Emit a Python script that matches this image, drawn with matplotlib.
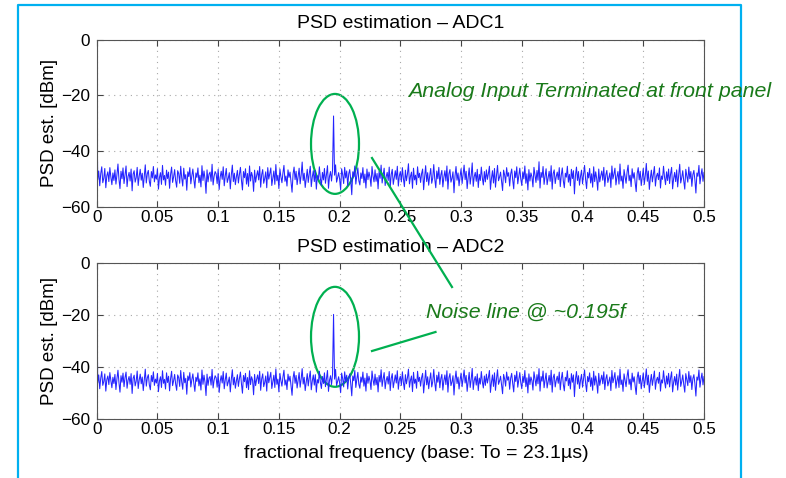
import numpy as np
import matplotlib
matplotlib.use("Agg")
import matplotlib.pyplot as plt
from matplotlib.patches import Ellipse
from matplotlib.lines import Line2D

plt.rcParams['font.family'] = ['Liberation Sans', 'DejaVu Sans']

# PSD estimates in dBm (bin 234 = noise line at ~0.195)
adc1_psd = [
    -16.3, -50.2, -47.1, -52.4, -48.0, -45.6, -51.3, -49.7, -46.2, -53.1, -48.8, -47.4, -50.9, -45.9, -49.3, -52.0, -47.8, -50.5, -46.7, -51.8,
    -48.4, -44.6, -50.1, -53.4, -47.2, -49.9, -46.0, -51.6, -48.6, -45.3, -52.7, -49.1, -47.6, -50.7, -46.4, -54.2, -48.2, -47.0, -51.1, -49.5,
    -45.8, -52.3, -48.9, -46.5, -50.4, -47.9, -53.0, -49.0, -44.9, -51.4, -48.1, -46.9, -50.8, -52.6, -47.3, -49.6, -45.5, -51.0, -48.5, -50.0,
    -46.3, -53.6, -49.4, -47.7, -51.9, -45.1, -50.3, -48.7, -52.2, -46.8, -49.8, -47.5, -53.3, -48.3, -45.7, -51.2, -49.2, -46.6, -50.6, -52.9,
    -47.0, -48.0, -51.5, -45.4, -49.6, -52.5, -46.1, -50.0, -48.4, -54.0, -47.4, -49.1, -45.9, -51.7, -48.8, -46.4, -50.2, -53.2, -47.8, -49.4,
    -46.0, -51.3, -48.6, -52.8, -45.2, -50.5, -47.1, -49.9, -55.1, -46.7, -51.0, -48.2, -47.5, -50.8, -44.7, -52.1, -49.0, -47.3, -48.1, -51.6,
    -46.5, -53.7, -49.3, -47.2, -50.1, -45.6, -52.4, -48.9, -46.2, -51.2, -49.7, -47.7, -53.5, -48.5, -45.0, -50.9, -47.9, -52.0, -49.2, -46.9,
    -51.4, -48.3, -45.8, -50.4, -53.9, -47.3, -49.5, -46.3, -51.8, -48.0, -52.6, -45.3, -50.7, -47.6, -49.0, -54.4, -46.8, -51.1, -48.7, -47.0,
    -50.3, -45.5, -52.9, -48.4, -46.6, -51.5, -49.8, -47.4, -53.1, -45.9, -50.0, -48.1, -46.0, -52.3, -49.6, -47.1, -51.9, -44.8, -50.6, -48.6,
    -53.4, -46.4, -49.2, -51.3, -47.8, -45.1, -50.8, -48.9, -52.5, -46.7, -49.4, -47.5, -51.0, -54.7, -48.2, -45.7, -50.2, -47.2, -52.0, -49.1,
    -46.1, -51.7, -48.5, -43.9, -50.5, -47.9, -53.0, -49.7, -46.5, -51.2, -48.0, -45.4, -52.7, -49.3, -47.0, -50.9, -46.9, -53.6, -48.8, -50.1,
    -45.6, -49.9, -52.2, -47.6, -50.3, -46.2, -51.5, -48.3, -45.2, -53.3, -49.0, -47.3, -50.7, -46.8, -27.4, -48.6, -44.9, -51.1, -49.5, -47.7,
    -50.0, -53.8, -46.3, -48.4, -51.6, -45.8, -49.6, -47.1, -52.4, -48.1, -46.6, -50.4, -55.6, -47.4, -49.2, -45.3, -51.8, -48.7, -46.0, -50.6,
    -52.1, -47.8, -49.8, -45.9, -51.3, -48.2, -53.2, -46.4, -50.2, -47.5, -49.3, -52.6, -45.5, -48.9, -51.0, -46.7, -50.8, -48.0, -53.5, -47.2,
    -49.7, -45.0, -51.4, -48.5, -46.1, -52.3, -49.1, -47.6, -50.5, -45.7, -53.0, -48.3, -46.5, -51.9, -49.4, -47.0, -50.1, -45.4, -52.5, -48.8,
    -47.3, -51.0, -45.9, -49.8, -52.7, -46.8, -50.6, -48.2, -44.5, -51.7, -49.0, -47.5, -53.3, -46.1, -50.3, -48.6, -52.0, -45.6, -49.5, -47.9,
    -51.2, -48.0, -46.4, -53.8, -49.2, -45.2, -50.9, -47.7, -52.2, -48.8, -46.2, -51.5, -49.6, -44.8, -50.0, -53.1, -47.1, -49.9, -45.8, -51.9,
    -48.5, -46.9, -52.8, -49.3, -47.0, -50.7, -45.3, -53.6, -48.1, -46.6, -51.1, -49.7, -47.4, -54.9, -48.9, -45.5, -50.4, -47.8, -52.4, -49.0,
    -46.3, -51.6, -48.4, -45.0, -50.2, -47.2, -53.4, -49.4, -46.0, -51.8, -48.7, -44.2, -52.6, -49.1, -47.6, -50.8, -46.5, -53.0, -48.3, -50.5,
    -45.7, -49.6, -52.1, -47.3, -51.0, -46.7, -50.1, -48.0, -45.4, -53.7, -49.8, -47.0, -51.4, -46.2, -52.9, -48.6, -45.1, -50.6, -49.3, -47.5,
    -50.9, -54.1, -46.8, -48.5, -51.3, -45.9, -49.0, -47.7, -52.5, -48.2, -46.4, -50.3, -53.5, -47.1, -49.5, -45.6, -51.7, -48.8, -46.1, -50.0,
    -52.3, -47.4, -49.9, -45.3, -51.5, -48.1, -53.9, -46.6, -50.7, -47.8, -49.2, -52.8, -45.8, -48.4, -51.2, -46.9, -50.4, -43.8, -53.2, -47.6,
    -49.4, -45.5, -51.9, -48.9, -46.3, -52.0, -49.7, -47.2, -50.8, -45.2, -53.6, -48.0, -46.7, -51.6, -49.1, -47.5, -50.2, -45.9, -52.7, -48.6,
    -46.0, -50.6, -53.1, -47.9, -49.3, -45.4, -51.1, -48.3, -52.4, -46.5, -49.8, -47.0, -55.3, -48.7, -45.7, -50.5, -47.3, -52.2, -49.0, -46.8,
    -51.7, -48.4, -45.1, -50.1, -53.4, -47.6, -49.6, -46.2, -51.4, -48.1, -52.9, -45.6, -50.9, -47.4, -49.9, -54.0, -46.4, -51.0, -48.8, -47.1,
    -50.4, -45.8, -52.6, -48.5, -46.9, -51.2, -49.5, -47.8, -53.0, -45.3, -50.0, -48.2, -46.1, -52.1, -49.2, -47.3, -51.8, -44.6, -50.7, -48.9,
    -53.3, -46.6, -49.1, -51.5, -47.5, -45.0, -50.6, -48.6, -52.7, -46.3, -49.7, -47.7, -51.3, -54.5, -48.0, -45.9, -50.3, -47.2, -52.3, -49.4,
    -46.2, -51.9, -48.7, -44.4, -50.8, -47.1, -53.7, -49.6, -46.8, -51.0, -48.3, -45.5, -52.5, -49.0, -47.9, -50.2, -46.0, -53.2, -48.9, -50.1,
    -45.4, -49.3, -52.0, -47.4, -50.5, -46.4, -51.6, -48.1, -45.8, -53.5, -49.8, -47.6, -50.9, -46.7, -52.8, -48.5, -44.7, -51.4, -49.5, -47.0,
    -50.7, -53.6, -46.5, -48.8, -51.1, -45.7, -49.9, -47.3, -52.6, -48.4, -46.9, -50.3, -55.0, -47.8, -49.0, -45.1, -51.7, -48.6, -46.3, -50.8,
    -47.6,
]

adc2_psd = [
    -4.2, -46.1, -43.0, -48.3, -44.2, -41.7, -47.0, -45.5, -42.6, -49.2, -44.8, -43.4, -46.7, -42.1, -45.2, -47.9, -43.9, -46.3, -42.8, -48.6,
    -44.5, -41.2, -46.0, -49.6, -43.3, -45.8, -42.3, -47.5, -44.0, -41.9, -48.1, -45.0, -43.6, -46.6, -42.5, -50.1, -44.3, -43.1, -47.2, -45.4,
    -41.5, -48.2, -44.9, -42.7, -46.4, -43.8, -49.0, -45.1, -40.8, -47.3, -44.1, -42.9, -46.8, -48.7, -43.2, -45.6, -41.8, -47.0, -44.6, -46.1,
    -42.4, -49.4, -45.3, -43.7, -47.8, -41.4, -46.2, -44.7, -48.4, -42.2, -45.9, -43.5, -49.1, -44.4, -41.6, -47.1, -45.2, -42.8, -46.5, -48.9,
    -43.0, -44.0, -47.4, -41.3, -45.7, -48.5, -42.0, -46.0, -44.3, -50.4, -43.4, -45.1, -42.1, -47.6, -44.8, -42.6, -46.3, -49.3, -43.9, -45.5,
    -42.2, -47.2, -44.5, -48.8, -41.1, -46.6, -43.1, -45.8, -50.9, -42.7, -47.0, -44.2, -43.6, -46.9, -40.9, -48.0, -45.0, -43.3, -44.1, -47.7,
    -42.5, -49.7, -45.4, -43.3, -46.1, -41.7, -48.3, -44.9, -42.3, -47.2, -45.7, -43.8, -49.5, -44.6, -41.0, -46.8, -43.9, -48.1, -45.3, -42.9,
    -47.4, -44.4, -41.9, -46.4, -50.0, -43.2, -45.6, -42.4, -47.9, -44.0, -48.6, -41.4, -46.7, -43.7, -45.0, -50.6, -42.8, -47.1, -44.7, -43.0,
    -46.3, -41.6, -48.9, -44.5, -42.6, -47.5, -45.9, -43.4, -49.2, -41.8, -46.0, -44.1, -42.0, -48.2, -45.6, -43.1, -47.8, -40.7, -46.6, -44.6,
    -49.5, -42.4, -45.2, -47.3, -43.8, -41.2, -46.9, -44.9, -48.6, -42.7, -45.4, -43.5, -47.0, -50.8, -44.2, -41.7, -46.2, -43.2, -48.0, -45.1,
    -42.1, -47.7, -44.5, -40.6, -46.5, -43.9, -49.0, -45.7, -42.5, -47.2, -44.0, -41.5, -48.7, -45.3, -43.0, -46.9, -42.9, -49.6, -44.8, -46.1,
    -41.6, -45.9, -48.2, -43.6, -46.3, -42.2, -47.5, -44.3, -41.3, -49.3, -45.0, -43.3, -46.7, -42.8, -19.8, -44.6, -40.9, -47.1, -45.5, -43.7,
    -46.0, -49.8, -42.3, -44.4, -47.6, -41.8, -45.6, -43.1, -48.4, -44.1, -42.6, -46.4, -51.0, -43.4, -45.2, -41.3, -47.8, -44.7, -42.0, -46.6,
    -48.1, -43.8, -45.8, -41.9, -47.3, -44.2, -49.2, -42.4, -46.2, -43.5, -45.3, -48.6, -41.5, -44.9, -47.0, -42.7, -46.8, -44.0, -49.5, -43.2,
    -45.7, -41.0, -47.4, -44.5, -42.1, -48.3, -45.1, -43.6, -46.5, -41.7, -49.0, -44.3, -42.5, -47.9, -45.4, -43.0, -46.1, -41.4, -48.5, -44.8,
    -43.5, -47.0, -41.8, -45.9, -48.6, -42.9, -46.4, -44.1, -40.8, -47.7, -45.0, -43.4, -49.4, -42.0, -46.2, -44.6, -48.1, -41.6, -45.5, -43.9,
    -47.3, -44.0, -42.4, -49.9, -45.3, -41.2, -46.8, -43.7, -48.3, -44.9, -42.2, -47.6, -45.6, -40.9, -46.0, -49.1, -43.1, -45.8, -41.9, -47.9,
    -44.4, -42.8, -48.8, -45.2, -43.0, -46.7, -41.4, -49.6, -44.1, -42.5, -47.1, -45.7, -43.3, -50.7, -44.8, -41.5, -46.3, -43.8, -48.4, -45.0,
    -42.3, -47.5, -44.3, -41.1, -46.1, -43.2, -49.3, -45.4, -42.0, -47.8, -44.6, -40.5, -48.6, -45.1, -43.6, -46.9, -42.6, -49.0, -44.2, -46.5,
    -41.7, -45.6, -48.0, -43.4, -47.0, -42.7, -46.1, -44.0, -41.3, -49.7, -45.8, -43.0, -47.4, -42.2, -48.9, -44.5, -41.0, -46.6, -45.3, -43.5,
    -46.9, -50.2, -42.8, -44.5, -47.3, -41.9, -45.0, -43.7, -48.5, -44.2, -42.4, -46.3, -49.5, -43.1, -45.5, -41.6, -47.7, -44.8, -42.1, -46.0,
    -48.3, -43.4, -45.9, -41.3, -47.5, -44.1, -49.9, -42.6, -46.7, -43.8, -45.2, -48.8, -41.8, -44.4, -47.2, -42.9, -46.4, -40.6, -49.2, -43.6,
    -45.4, -41.5, -47.9, -44.9, -42.3, -48.0, -45.7, -43.2, -46.8, -41.2, -49.6, -44.0, -42.7, -47.6, -45.1, -43.5, -46.2, -41.9, -48.7, -44.6,
    -42.0, -46.6, -49.1, -43.9, -45.3, -41.4, -47.1, -44.3, -48.4, -42.5, -45.8, -43.0, -51.3, -44.7, -41.7, -46.5, -43.3, -48.2, -45.0, -42.8,
    -47.7, -44.4, -41.1, -46.1, -49.4, -43.6, -45.6, -42.2, -47.4, -44.1, -48.9, -41.6, -46.9, -43.4, -45.9, -50.0, -42.4, -47.0, -44.8, -43.1,
    -46.4, -41.8, -48.6, -44.5, -42.9, -47.2, -45.5, -43.8, -49.0, -41.3, -46.0, -44.2, -42.1, -48.1, -45.2, -43.3, -47.8, -40.8, -46.7, -44.9,
    -49.3, -42.6, -45.1, -47.5, -43.5, -41.0, -46.6, -44.6, -48.7, -42.3, -45.7, -43.7, -47.3, -50.5, -44.0, -41.9, -46.3, -43.2, -48.3, -45.4,
    -42.2, -47.9, -44.7, -40.7, -46.8, -43.1, -49.7, -45.6, -42.8, -47.0, -44.3, -41.5, -48.5, -45.0, -43.9, -46.2, -42.0, -49.2, -44.9, -46.1,
    -41.4, -45.3, -48.0, -43.4, -46.5, -42.4, -47.6, -44.1, -41.8, -49.5, -45.8, -43.6, -46.9, -42.7, -48.8, -44.5, -40.9, -47.4, -45.5, -43.0,
    -46.7, -49.6, -42.5, -44.8, -47.1, -41.7, -45.9, -43.3, -48.6, -44.4, -42.9, -46.3, -51.1, -43.8, -45.0, -41.1, -47.7, -44.6, -42.3, -46.8,
    -43.6,
]

# frequency bins, uniformly spaced over 0..0.5 (fractional frequency)
freq = np.linspace(0, 0.5, len(adc1_psd))

xticks = [0, 0.05, 0.1, 0.15, 0.2, 0.25, 0.3, 0.35, 0.4, 0.45, 0.5]
xtick_labels = ['0', '0.05', '0.1', '0.15', '0.2', '0.25', '0.3', '0.35', '0.4', '0.45', '0.5']
yticks = [-60, -40, -20, 0]

W, H = 786, 478
GREEN = '#00b050'
TEXT_GREEN = '#1a7a1a'


def style_axes(ax, title):
    ax.set_xlim(0, 0.5)
    ax.set_ylim(-60, 0)
    ax.set_xticks(xticks)
    ax.set_xticklabels(xtick_labels)
    ax.set_yticks(yticks)
    ax.grid(True, linestyle=(0, (1, 4)), color='#a8a8a8', linewidth=0.8)
    ax.tick_params(direction='in', top=True, right=True, length=4,
                   labelsize=12.3, color='#444444')
    ax.tick_params(axis='x', pad=2)
    ax.tick_params(axis='y', pad=5)
    for s in ax.spines.values():
        s.set_color('#555555')
        s.set_linewidth(0.8)
    ax.set_title(title, fontsize=14, pad=8)
    ax.set_ylabel('PSD est. [dBm]', fontsize=13.5)
    ax.yaxis.set_label_coords(-0.064, 0.5)


fig = plt.figure(figsize=(7.86, 4.78), dpi=100)
ax1 = fig.add_axes([96.7 / W, 1 - 207 / H, 607.3 / W, 167.5 / H])
ax2 = fig.add_axes([96.7 / W, 1 - 419.3 / H, 607.3 / W, 156.6 / H])

ax1.plot(freq, adc1_psd, color='#2424ff', linewidth=0.75)
ax2.plot(freq, adc2_psd, color='#2424ff', linewidth=0.75)
style_axes(ax1, 'PSD estimation \u2013 ADC1')
style_axes(ax2, 'PSD estimation \u2013 ADC2')
ax2.set_xlabel('fractional frequency (base: To = 23.1\u00b5s)', fontsize=14)
ax2.xaxis.set_label_coords(0.5255, -0.165)

# circles round the noise line
ax1.add_patch(Ellipse((0.1962, -37.4), 0.0395, 35.8, fill=False,
                      edgecolor=GREEN, linewidth=1.6, clip_on=False))
ax2.add_patch(Ellipse((0.1962, -28.4), 0.0395, 38.3, fill=False,
                      edgecolor=GREEN, linewidth=1.6, clip_on=False))

# annotation text and pointer lines (figure pixels)
fig.text(408 / W, 1 - 96.5 / H, 'Analog Input Terminated at front panel',
         fontsize=15.4, style='italic', color=TEXT_GREEN, va='baseline')
fig.text(426 / W, 1 - 317.5 / H, 'Noise line @ ~0.195f',
         fontsize=15.4, style='italic', color=TEXT_GREEN, va='baseline')
fig.add_artist(Line2D([372 / W, 452 / W], [1 - 158 / H, 1 - 287 / H],
                      color=GREEN, linewidth=1.6))
fig.add_artist(Line2D([372 / W, 435.5 / W], [1 - 351 / H, 1 - 332 / H],
                      color=GREEN, linewidth=1.6))

# slide frame
fig.add_artist(Line2D([18.3 / W, 18.3 / W, 741 / W, 741 / W],
                      [-0.05, 1 - 5 / H, 1 - 5 / H, -0.05],
                      color='#00b0f0', linewidth=1.6, clip_on=False))

fig.savefig('out.png', dpi=100)
